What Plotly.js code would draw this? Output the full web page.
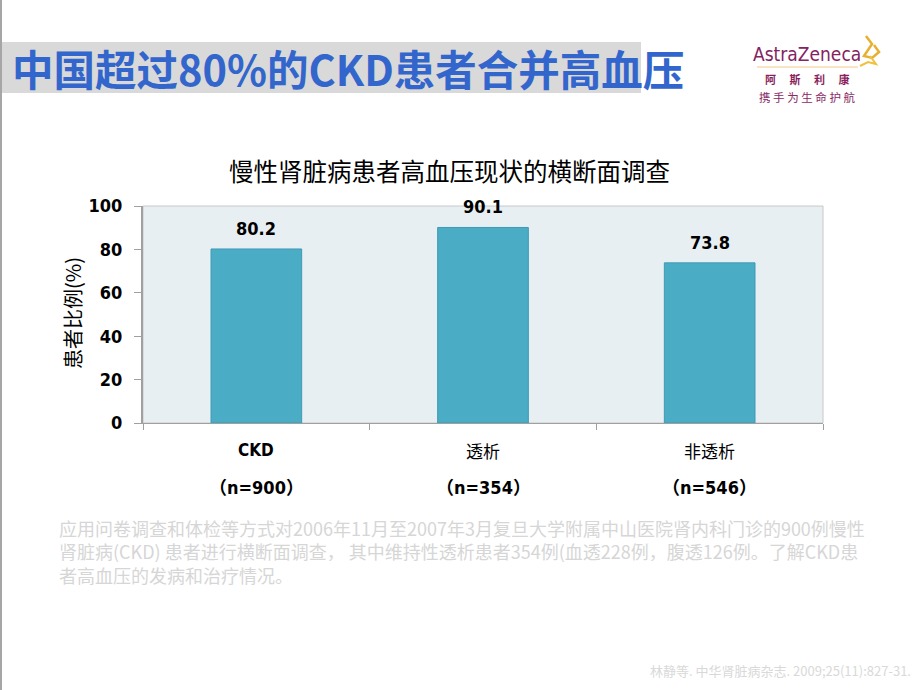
<!DOCTYPE html>
<html><head><meta charset="utf-8">
<script src="https://cdn.plot.ly/plotly-3.0.1.min.js"></script>
<style>html,body{margin:0;padding:0;background:#fff;}#chart{width:920px;height:690px;}</style>
</head><body><div id="chart"></div>
<script>
// ---- data ----
const categories = ['CKD', '透析', '非透析'];
const sampleSizes = ['（n=900）', '（n=354）', '（n=546）'];
const hypertensionPct = [80.2, 90.1, 73.8];
const yTickVals = [0, 20, 40, 60, 80, 100];

// ---- geometry helpers (pixel -> paper) ----
const L = 143, R = 823, T = 206, B = 423;
const xp = px => (px - L) / (R - L);
const yp = py => (B - py) / (B - T);

const CJK = '"Noto Sans CJK SC", "Noto Sans", sans-serif';
const NARROW = '"Liberation Sans Narrow", "DejaVu Sans Condensed", "Liberation Sans", sans-serif';

const trace = {
  type: 'bar',
  x: categories,
  y: hypertensionPct,
  width: 0.4,
  marker: {color: '#4BACC6', line: {color: '#3E9AB3', width: 1}},
  hoverinfo: 'skip'
};

const annotations = [];
// value labels
hypertensionPct.forEach((v, i) => {
  annotations.push({x: categories[i], y: v, xref: 'x', yref: 'y', text: v.toFixed(1),
    showarrow: false, yanchor: 'bottom', yshift: 8,
    font: {family: NARROW, size: 18, color: '#000', weight: 'bold'}});
});
// category labels and sample sizes
categories.forEach((c, i) => {
  annotations.push({x: c, y: yp(450), xref: 'x', yref: 'paper', text: c, showarrow: false,
    yanchor: 'middle', font: {family: i === 0 ? NARROW : CJK, size: 17, color: '#000', weight: i === 0 ? 'bold' : 'normal'}});
  annotations.push({x: c, y: yp(487), xref: 'x', yref: 'paper', text: sampleSizes[i], showarrow: false,
    yanchor: 'middle', font: {family: NARROW + ', ' + CJK, size: 18, color: '#000', weight: 'bold'}});
});
// main slide title
annotations.push({x: xp(10), y: yp(68), xref: 'paper', yref: 'paper', text: '中国超过80%的CKD患者合并高血压',
  showarrow: false, xanchor: 'left', yanchor: 'middle',
  font: {family: CJK, size: 41.5, color: '#3366CC', weight: 'bold'}});
// chart title
annotations.push({x: xp(449), y: yp(170), xref: 'paper', yref: 'paper', text: '慢性肾脏病患者高血压现状的横断面调查',
  showarrow: false, xanchor: 'center', yanchor: 'middle',
  font: {family: CJK, size: 24.5, color: '#000'}});
// y axis title
annotations.push({x: xp(72), y: yp(313), xref: 'paper', yref: 'paper', text: '患者比例(%)', textangle: -90,
  showarrow: false, xanchor: 'center', yanchor: 'middle',
  font: {family: CJK, size: 20, color: '#000'}});
// paragraph
const para = [
  '应用问卷调查和体检等方式对2006年11月至2007年3月复旦大学附属中山医院肾内科门诊的900例慢性',
  '肾脏病(CKD) 患者进行横断面调查， 其中维持性透析患者354例(血透228例，腹透126例。了解CKD患',
  '者高血压的发病和治疗情况。'
];
annotations.push({x: xp(57), y: yp(513), xref: 'paper', yref: 'paper', text: para.join('<br>'),
  showarrow: false, xanchor: 'left', yanchor: 'top', align: 'left',
  font: {family: CJK, size: 18, color: '#D6D6D6'}});
// citation
annotations.push({x: xp(913), y: yp(670), xref: 'paper', yref: 'paper', text: '林静等. 中华肾脏病杂志. 2009;25(11):827-31.',
  showarrow: false, xanchor: 'right', yanchor: 'middle', font: {family: CJK, size: 13, color: '#D9D9D9'}});
// logo
annotations.push({x: xp(807), y: yp(54), xref: 'paper', yref: 'paper', text: 'AstraZeneca',
  showarrow: false, xanchor: 'center', yanchor: 'middle', font: {family: NARROW, size: 19, color: '#83235F'}});
annotations.push({x: xp(807), y: yp(79), xref: 'paper', yref: 'paper', text: '阿　 斯　 利　 康',
  showarrow: false, xanchor: 'center', yanchor: 'middle', font: {family: CJK, size: 11, color: '#8A1F5E', weight: 'bold'}});
annotations.push({x: xp(807), y: yp(97), xref: 'paper', yref: 'paper', text: '携 手 为 生 命 护 航',
  showarrow: false, xanchor: 'center', yanchor: 'middle', font: {family: CJK, size: 11.5, color: '#8A2A66'}});

function pathPx(pts) {
  return pts.map((p, i) => (i ? 'L' : 'M') + xp(p[0]).toFixed(4) + ',' + yp(p[1]).toFixed(4)).join(' ');
}

const shapes = [
  // left edge line
  {type: 'line', xref: 'paper', yref: 'paper', x0: xp(1), x1: xp(1), y0: yp(0), y1: yp(690), line: {color: '#A6A6A6', width: 2}},
  // title band
  {type: 'rect', xref: 'paper', yref: 'paper', x0: xp(2), x1: xp(641), y0: yp(93), y1: yp(42), fillcolor: '#D9D9D9', line: {width: 0}, layer: 'below'},
  // plot border
  {type: 'rect', xref: 'paper', yref: 'paper', x0: 0, x1: 1, y0: 0, y1: 1, line: {color: '#C8C8C8', width: 1}, layer: 'below'},
  // logo underline
  {type: 'line', xref: 'paper', yref: 'paper', x0: xp(757), x1: xp(858), y0: yp(67), y1: yp(67), line: {color: '#F2C98A', width: 1}},
  // logo swirl (approx)
  {type: 'path', xref: 'paper', yref: 'paper', path: pathPx([[866,36],[872,44],[864,56],[872,58],[879,52],[874,45]]),
    line: {color: '#E8B030', width: 2.5}},
  {type: 'path', xref: 'paper', yref: 'paper', path: pathPx([[860,66],[868,62],[876,64],[870,56]]),
    line: {color: '#F0C040', width: 2}}
];

const layout = {
  width: 920, height: 690,
  margin: {l: L, r: 920 - R, t: T, b: 690 - B},
  paper_bgcolor: '#FFFFFF',
  plot_bgcolor: '#E8EFF3',
  showlegend: false,
  bargap: 0.6,
  xaxis: {type: 'category', tickson: 'boundaries', ticks: 'outside', ticklen: 6, tickcolor: '#A0A0A0',
    showticklabels: false, showline: true, linecolor: '#A0A0A0', linewidth: 1, showgrid: false, zeroline: false,
    fixedrange: true},
  yaxis: {range: [0, 100], tickvals: yTickVals, ticks: 'outside', ticklen: 7, tickcolor: '#A0A0A0',
    showline: true, linecolor: '#A0A0A0', linewidth: 2, showgrid: false, zeroline: false,
    ticklabelstandoff: 8,
    tickfont: {family: NARROW, size: 18, color: '#000', weight: 'bold'}, fixedrange: true},
  annotations: annotations,
  shapes: shapes
};

Plotly.newPlot('chart', [trace], layout, {displayModeBar: false, staticPlot: true});
</script>
</body></html>
